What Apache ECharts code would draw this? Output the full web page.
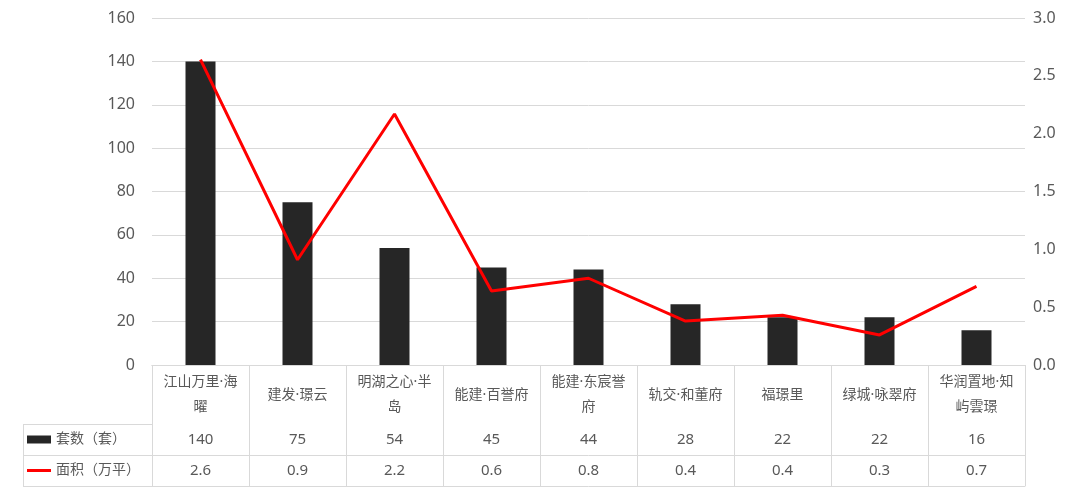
<!DOCTYPE html>
<html>
<head>
<meta charset="utf-8">
<script src="https://cdn.jsdelivr.net/npm/echarts@6/dist/echarts.min.js"></script>
<style>
html,body{margin:0;padding:0;background:#fff;}
#main{width:1080px;height:493px;}
</style>
</head>
<body>
<div id="main"></div>
<script>
var categories = ['江山万里·海\n曜', '建发·璟云', '明湖之心·半\n岛', '能建·百誉府', '能建·东宸誉\n府', '轨交·和董府', '福璟里', '绿城·咏翠府', '华润置地·知\n屿雲璟'];
var counts = [140, 75, 54, 45, 44, 28, 22, 22, 16];
var areas = [2.64, 0.91, 2.17, 0.64, 0.75, 0.38, 0.43, 0.26, 0.68];
var leftTicks = {min: 0, max: 160, interval: 20};
var rightTicks = {min: 0, max: 3, interval: 0.5};
var seriesNames = ['套数（套）', '面积（万平）'];

var FONT = '"Noto Sans", "Noto Sans CJK SC", sans-serif';
var TXT = '#595959';
var LINE = '#d9d9d9';

var chart = echarts.init(document.getElementById('main'));
var option = {
  animation: false,
  textStyle: {fontFamily: FONT},
  grid: {left: 152, right: 55, top: 18, bottom: 128, containLabel: false},
  legend: [
    {
      data: [{name: seriesNames[0], icon: 'rect'}],
      left: 27, top: 431.5, padding: 0,
      itemWidth: 24, itemHeight: 8, selectedMode: false,
      textStyle: {fontSize: 14, color: TXT, lineHeight: 16, fontFamily: FONT}
    },
    {
      data: [{name: seriesNames[1], icon: 'path://M0,0L24,0L24,3L0,3Z'}],
      left: 27, top: 462.5, padding: 0,
      itemWidth: 24, itemHeight: 8, selectedMode: false,
      textStyle: {fontSize: 14, color: TXT, lineHeight: 16, fontFamily: FONT}
    }
  ],
  xAxis: [
    {
      type: 'category', data: categories, position: 'bottom',
      axisLine: {show: true, lineStyle: {color: LINE, width: 1}},
      axisTick: {show: true, length: 121, interval: 0, lineStyle: {color: LINE, width: 1}},
      axisLabel: {interval: 0, margin: 30, verticalAlign: 'middle', lineHeight: 25,
                  fontSize: 14, color: TXT, fontFamily: FONT}
    },
    {
      type: 'category', data: categories, position: 'bottom', offset: 59,
      axisLine: {show: true, lineStyle: {color: LINE, width: 1}},
      axisTick: {show: false},
      axisLabel: {interval: 0, margin: 15.5, verticalAlign: 'middle', fontSize: 15, color: TXT,
                  fontFamily: FONT,
                  formatter: function (v, i) { return String(counts[i]); }}
    },
    {
      type: 'category', data: categories, position: 'bottom', offset: 90,
      axisLine: {show: true, lineStyle: {color: LINE, width: 1}},
      axisTick: {show: false},
      axisLabel: {interval: 0, margin: 15.5, verticalAlign: 'middle', fontSize: 15, color: TXT,
                  fontFamily: FONT,
                  formatter: function (v, i) { return areas[i].toFixed(1); }}
    },
    {
      type: 'category', data: categories, position: 'bottom', offset: 121,
      axisLine: {show: true, lineStyle: {color: LINE, width: 1}},
      axisTick: {show: false},
      axisLabel: {show: false}
    }
  ],
  yAxis: [
    {
      type: 'value', min: leftTicks.min, max: leftTicks.max, interval: leftTicks.interval,
      axisLine: {show: false}, axisTick: {show: false},
      splitLine: {show: true, lineStyle: {color: LINE, width: 1}},
      axisLabel: {margin: 17, fontSize: 16, color: TXT, fontFamily: FONT}
    },
    {
      type: 'value', min: rightTicks.min, max: rightTicks.max, interval: rightTicks.interval,
      position: 'right',
      axisLine: {show: false}, axisTick: {show: false},
      splitLine: {show: false},
      axisLabel: {margin: 8, fontSize: 16, color: TXT, fontFamily: FONT,
                  formatter: function (v) { return v.toFixed(1); }}
    }
  ],
  graphic: [
    {type: 'line', shape: {x1: 23, y1: 424.5, x2: 152, y2: 424.5}, style: {stroke: LINE, lineWidth: 1}, silent: true},
    {type: 'line', shape: {x1: 23, y1: 455.5, x2: 152, y2: 455.5}, style: {stroke: LINE, lineWidth: 1}, silent: true},
    {type: 'line', shape: {x1: 23, y1: 486.5, x2: 152, y2: 486.5}, style: {stroke: LINE, lineWidth: 1}, silent: true},
    {type: 'line', shape: {x1: 23.5, y1: 424, x2: 23.5, y2: 487}, style: {stroke: LINE, lineWidth: 1}, silent: true}
  ],
  series: [
    {
      name: seriesNames[0], type: 'bar', data: counts, barWidth: 30,
      xAxisIndex: 0, yAxisIndex: 0,
      itemStyle: {color: '#262626'}
    },
    {
      name: seriesNames[1], type: 'line', data: areas,
      xAxisIndex: 0, yAxisIndex: 1,
      showSymbol: false, symbol: 'none',
      lineStyle: {color: '#ff0000', width: 3},
      itemStyle: {color: '#ff0000'}
    }
  ]
};
chart.setOption(option);
</script>
</body>
</html>
